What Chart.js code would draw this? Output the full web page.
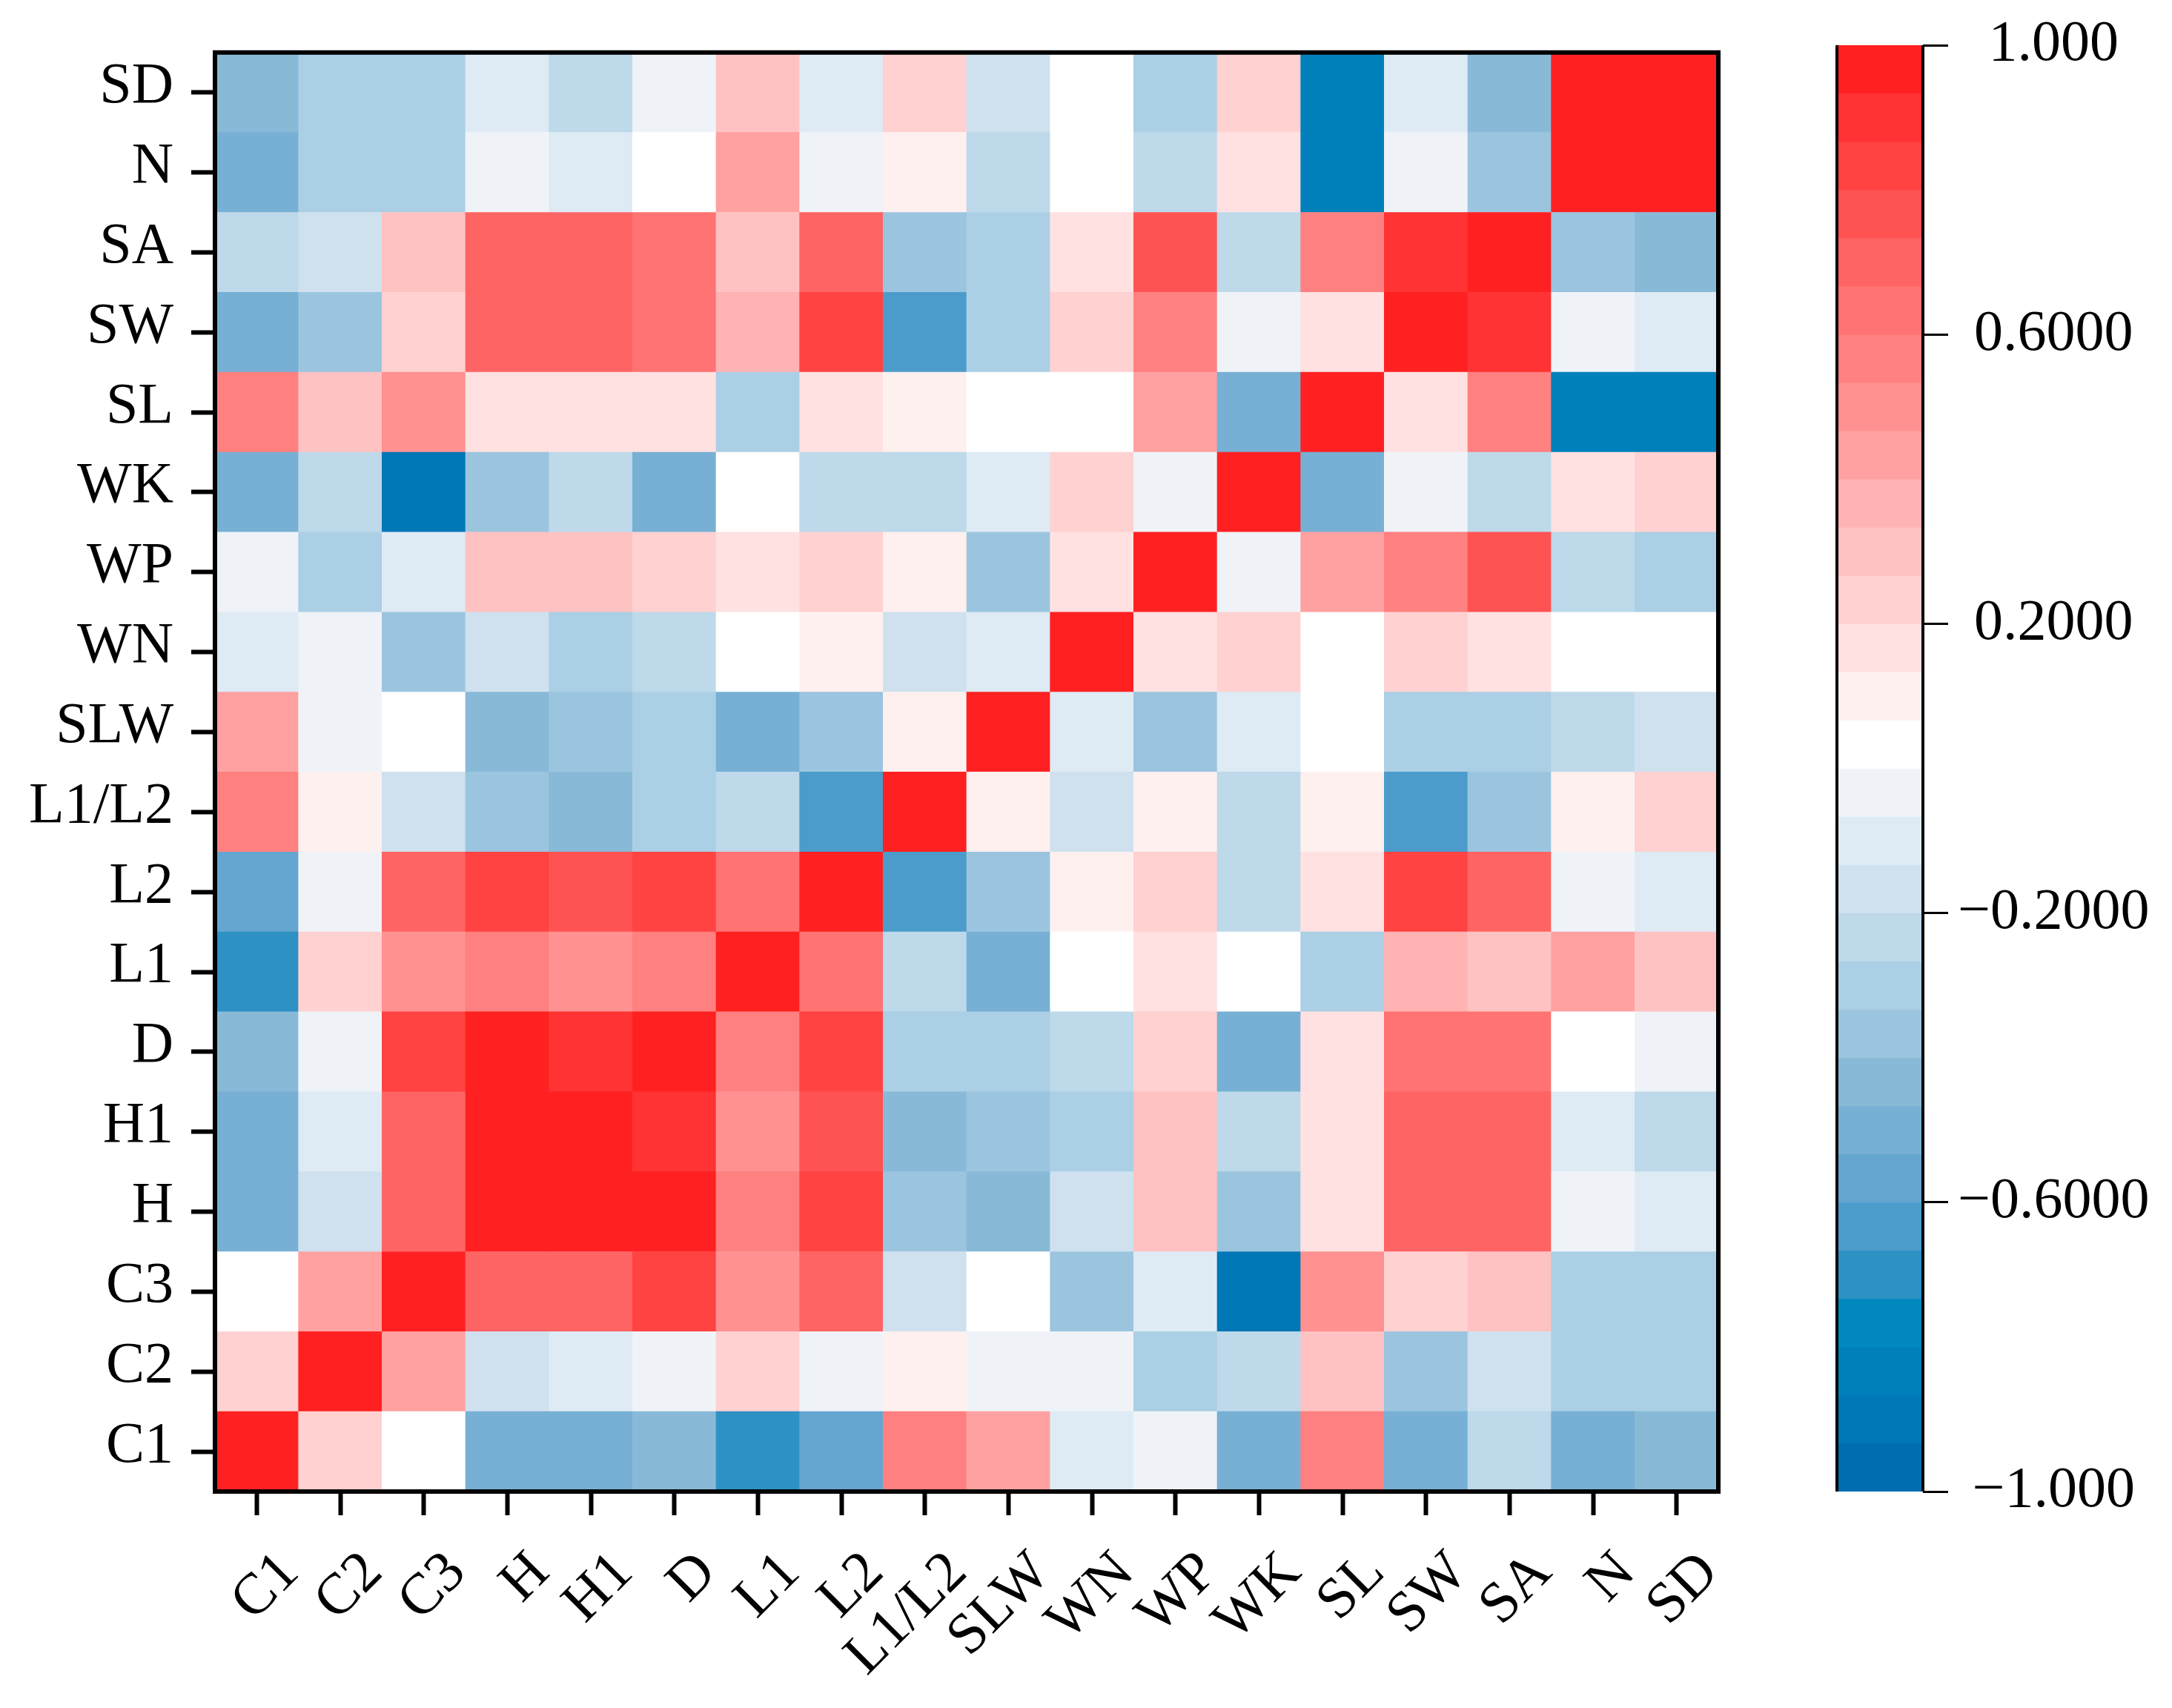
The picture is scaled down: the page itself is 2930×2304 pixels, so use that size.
<!DOCTYPE html>
<html>
<head>
<meta charset="utf-8">
<script src="https://cdn.jsdelivr.net/npm/chart.js@4.4.1/dist/chart.umd.min.js"></script>
<style>
  html, body { margin: 0; padding: 0; background: #fff; }
  #wrap { position: relative; width: 2930px; height: 2304px; }
  canvas { position: absolute; top: 0; }
  #heat { left: 0; }
  #bar { left: 2400px; }
</style>
</head>
<body>
<div id="wrap">
  <canvas id="heat" width="2930" height="2304"></canvas>
  <canvas id="bar" width="530" height="2304"></canvas>
</div>
<script>
// Variables, bottom row / left column first
const variables = ['C1', 'C2', 'C3', 'H', 'H1', 'D', 'L1', 'L2', 'L1/L2', 'SLW', 'WN', 'WP', 'WK', 'SL', 'SW', 'SA', 'N', 'SD'];

// Correlation rows (one per variable, columns in the same order as above)
const rowC1   = [1.00, 0.23, 0.03, -0.50, -0.50, -0.43, -0.70, -0.57, 0.57, 0.43, -0.10, -0.03, -0.50, 0.57, -0.50, -0.23, -0.50, -0.43];
const rowC2   = [0.23, 1.00, 0.43, -0.17, -0.10, -0.03, 0.23, -0.03, 0.10, -0.03, -0.03, -0.30, -0.23, 0.30, -0.37, -0.17, -0.30, -0.30];
const rowC3   = [0.03, 0.43, 1.00, 0.70, 0.70, 0.83, 0.50, 0.70, -0.17, 0.03, -0.37, -0.10, -0.90, 0.50, 0.23, 0.30, -0.30, -0.30];
const rowH    = [-0.50, -0.17, 0.70, 1.00, 1.00, 1.00, 0.57, 0.83, -0.37, -0.43, -0.17, 0.30, -0.37, 0.17, 0.70, 0.70, -0.03, -0.10];
const rowH1   = [-0.50, -0.10, 0.70, 1.00, 1.00, 0.90, 0.50, 0.77, -0.43, -0.37, -0.30, 0.30, -0.23, 0.17, 0.70, 0.70, -0.10, -0.23];
const rowD    = [-0.43, -0.03, 0.83, 1.00, 0.90, 1.00, 0.57, 0.83, -0.30, -0.30, -0.23, 0.23, -0.50, 0.17, 0.63, 0.63, 0.03, -0.03];
const rowL1   = [-0.70, 0.23, 0.50, 0.57, 0.50, 0.57, 1.00, 0.63, -0.23, -0.50, 0.03, 0.17, 0.03, -0.30, 0.37, 0.30, 0.43, 0.30];
const rowL2   = [-0.57, -0.03, 0.70, 0.83, 0.77, 0.83, 0.63, 1.00, -0.63, -0.37, 0.10, 0.23, -0.23, 0.17, 0.83, 0.70, -0.03, -0.10];
const rowL1L2 = [0.57, 0.10, -0.17, -0.37, -0.43, -0.30, -0.23, -0.63, 1.00, 0.10, -0.17, 0.10, -0.23, 0.10, -0.63, -0.37, 0.10, 0.23];
const rowSLW  = [0.43, -0.03, 0.03, -0.43, -0.37, -0.30, -0.50, -0.37, 0.10, 1.00, -0.10, -0.37, -0.10, 0.03, -0.30, -0.30, -0.23, -0.17];
const rowWN   = [-0.10, -0.03, -0.37, -0.17, -0.30, -0.23, 0.03, 0.10, -0.17, -0.10, 1.00, 0.17, 0.23, 0.03, 0.23, 0.17, 0.03, 0.03];
const rowWP   = [-0.03, -0.30, -0.10, 0.30, 0.30, 0.23, 0.17, 0.23, 0.10, -0.37, 0.17, 1.00, -0.03, 0.43, 0.57, 0.77, -0.23, -0.30];
const rowWK   = [-0.50, -0.23, -0.90, -0.37, -0.23, -0.50, 0.03, -0.23, -0.23, -0.10, 0.23, -0.03, 1.00, -0.50, -0.03, -0.23, 0.17, 0.23];
const rowSL   = [0.57, 0.30, 0.50, 0.17, 0.17, 0.17, -0.30, 0.17, 0.10, 0.03, 0.03, 0.43, -0.50, 1.00, 0.17, 0.57, -0.83, -0.83];
const rowSW   = [-0.50, -0.37, 0.23, 0.70, 0.70, 0.63, 0.37, 0.83, -0.63, -0.30, 0.23, 0.57, -0.03, 0.17, 1.00, 0.90, -0.03, -0.10];
const rowSA   = [-0.23, -0.17, 0.30, 0.70, 0.70, 0.63, 0.30, 0.70, -0.37, -0.30, 0.17, 0.77, -0.23, 0.57, 0.90, 1.00, -0.37, -0.43];
const rowN    = [-0.50, -0.30, -0.30, -0.03, -0.10, 0.03, 0.43, -0.03, 0.10, -0.23, 0.03, -0.23, 0.17, -0.83, -0.03, -0.37, 1.00, 1.00];
const rowSD   = [-0.43, -0.30, -0.30, -0.10, -0.23, -0.03, 0.30, -0.10, 0.23, -0.17, 0.03, -0.30, 0.23, -0.83, -0.10, -0.43, 1.00, 1.00];

const corrRows = [rowC1, rowC2, rowC3, rowH, rowH1, rowD, rowL1, rowL2, rowL1L2, rowSLW,
                  rowWN, rowWP, rowWK, rowSL, rowSW, rowSA, rowN, rowSD];

// Colour bar ticks
const barTicks = [1, 0.6, 0.2, -0.2, -0.6, -1];
const barTickLabels = ['1.000', '0.6000', '0.2000', '\u22120.2000', '\u22120.6000', '\u22121.000'];

// 30 colour levels, from +1 (top) down to -1 (bottom)
const palette = [
  '#ff2121', '#ff3333', '#ff4242', '#ff5252', '#ff6464', '#ff7373', '#ff8080', '#ff9191',
  '#ffa1a1', '#ffb3b3', '#ffc2c2', '#ffd1d1', '#ffe1e1', '#fff0f0', '#ffffff',
  '#eff3f8', '#deebf5', '#cfe1ef', '#bdd9ea', '#abcfe5', '#9bc5df', '#88bad8', '#77b0d4',
  '#64a6cf', '#4b9cca', '#2d91c4', '#0088bf', '#0080bb', '#0077b6', '#006db0'
];

const FONT = "'Liberation Serif', 'Times New Roman', serif";
Chart.defaults.font.family = FONT;
Chart.defaults.color = '#000';

function colorFor(v) {
  let i = Math.floor((1 - v) / 2 * palette.length);
  i = Math.max(0, Math.min(palette.length - 1, i));
  return palette[i];
}

// frame around the plot area
const framePlugin = {
  id: 'frame',
  afterDatasetsDraw(chart, args, opts) {
    const { ctx, chartArea: a } = chart;
    ctx.save();
    ctx.strokeStyle = '#000';
    ctx.lineWidth = opts.width;
    if (opts.sidesOnly) {
      ctx.beginPath();
      ctx.moveTo(a.left, a.top); ctx.lineTo(a.left, a.bottom);
      ctx.moveTo(a.right, a.top); ctx.lineTo(a.right, a.bottom);
      ctx.stroke();
    } else {
      ctx.strokeRect(a.left, a.top, a.right - a.left, a.bottom - a.top);
    }
    ctx.restore();
  }
};

const tickFont = { family: FONT, size: 78 };

// Heatmap: one stacked dataset per row, each cell one unit tall
new Chart(document.getElementById('heat'), {
  type: 'bar',
  data: {
    labels: variables,
    datasets: corrRows.map((row, k) => ({
      label: variables[k],
      data: row.map(() => 1),
      backgroundColor: row.map(colorFor),
      borderWidth: 0,
      barPercentage: 1,
      categoryPercentage: 1
    }))
  },
  options: {
    responsive: false,
    animation: false,
    devicePixelRatio: 1,
    layout: { padding: { top: 60, right: 612, left: 0, bottom: 0 } },
    plugins: {
      legend: { display: false },
      tooltip: { enabled: false },
      frame: { width: 6 }
    },
    scales: {
      x: {
        stacked: true,
        grid: { offset: false, drawOnChartArea: false, drawTicks: true, tickLength: 32, tickWidth: 6, tickColor: '#000' },
        border: { display: false },
        ticks: { autoSkip: false, minRotation: 45, maxRotation: 45, padding: 32, labelOffset: 45, color: '#000', font: tickFont },
        afterFit: s => { s.height = 292; }
      },
      y: {
        stacked: true,
        min: 0,
        max: 18,
        afterBuildTicks: s => { s.ticks = variables.map((_, i) => ({ value: i + 0.5 })); },
        grid: { drawOnChartArea: false, drawTicks: true, tickLength: 32, tickWidth: 6, tickColor: '#000' },
        border: { display: false },
        ticks: { callback: v => variables[Math.floor(v)], padding: 24, labelOffset: -7, color: '#000', font: tickFont },
        afterFit: s => { s.width = 290; }
      }
    }
  },
  plugins: [framePlugin]
});

// Colour bar: one floating bar per colour level
const step = 2 / palette.length;
new Chart(document.getElementById('bar'), {
  type: 'bar',
  data: {
    labels: [''],
    datasets: palette.map((c, i) => ({
      data: [[1 - (i + 1) * step, 1 - i * step]],
      backgroundColor: c,
      borderWidth: 0,
      grouped: false,
      barPercentage: 1,
      categoryPercentage: 1
    }))
  },
  options: {
    responsive: false,
    animation: false,
    devicePixelRatio: 1,
    layout: { padding: { top: 61, left: 78, right: 0, bottom: 292 } },
    plugins: {
      legend: { display: false },
      tooltip: { enabled: false },
      frame: { width: 4, sidesOnly: true }
    },
    scales: {
      x: { display: false },
      y: {
        position: 'right',
        min: -1,
        max: 1,
        afterBuildTicks: s => { s.ticks = barTicks.map(v => ({ value: v })); },
        grid: { drawOnChartArea: false, drawTicks: true, tickLength: 34, tickWidth: 3, tickColor: '#000' },
        border: { display: false },
        ticks: { callback: (v, i) => barTickLabels[i], padding: 13, crossAlign: 'center', color: '#000', font: tickFont },
        afterFit: s => { s.width = 336; }
      }
    }
  },
  plugins: [framePlugin]
});
</script>
</body>
</html>
